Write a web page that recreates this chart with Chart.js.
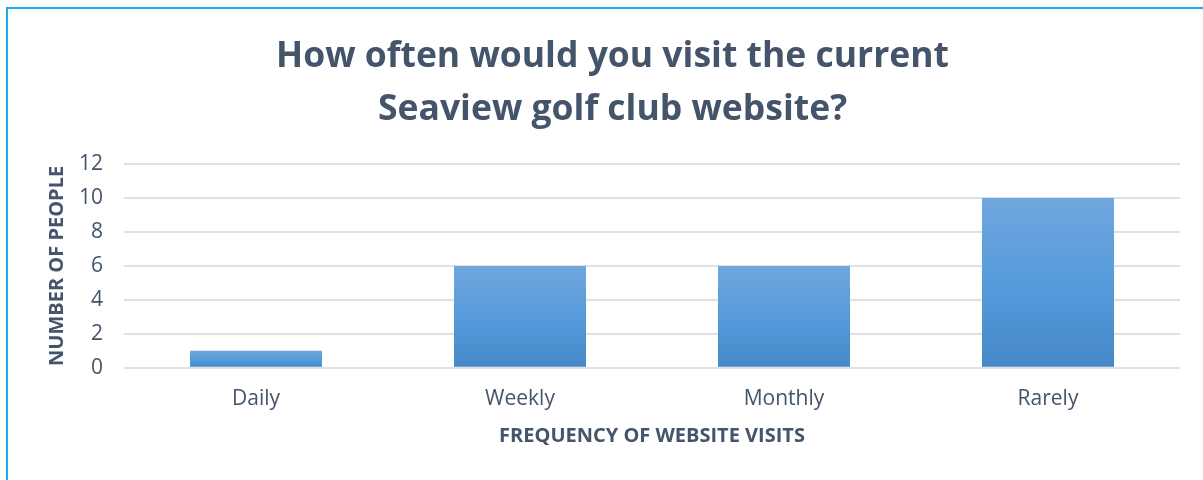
<!DOCTYPE html>
<html>
<head>
<meta charset="utf-8">
<script src="https://cdn.jsdelivr.net/npm/chart.js@4"></script>
<style>
  html, body { margin: 0; padding: 0; background: #fff; overflow: hidden; }
  #wrap { position: relative; width: 1203px; height: 480px; }
  #frame { position: absolute; left: 6px; top: 7px; width: 1400px; height: 700px;
           border-left: 2px solid #14aee9; border-top: 2px solid #14aee9; pointer-events: none; }
</style>
</head>
<body>
<div id="wrap">
  <canvas id="visitChart" width="1203" height="480"></canvas>
  <div id="frame"></div>
</div>
<script>
const categories = ["Daily", "Weekly", "Monthly", "Rarely"];
const people = [1, 6, 6, 10];
const yTicks = [0, 2, 4, 6, 8, 10, 12];

const textColor = "#44546a";
const ctx = document.getElementById("visitChart").getContext("2d");

// per-bar vertical gradient, lighter at the top
function barGradient(c) {
    const chart = c.chart;
    const y = chart.scales.y;
    if (!y || c.raw == null) return "#5b9bd5";
    const top = y.getPixelForValue(c.raw);
    const base = y.getPixelForValue(0);
    if (!isFinite(top) || !isFinite(base) || top === base) return "#5b9bd5";
    const g = chart.ctx.createLinearGradient(0, top, 0, base);
    g.addColorStop(0, "#71a6dd");
    g.addColorStop(0.5, "#569bdb");
    g.addColorStop(1, "#4488c8");
    return g;
}

new Chart(ctx, {
    type: "bar",
    data: {
        labels: categories,
        datasets: [{
            label: "Number of people",
            data: people,
            backgroundColor: barGradient,
            borderWidth: 0,
            categoryPercentage: 0.5,
            barPercentage: 1.0
        }]
    },
    options: {
        responsive: false,
        animation: false,
        layout: { padding: { left: 45, right: 23, top: 30, bottom: 32 } },
        plugins: {
            legend: { display: false },
            tooltip: { enabled: false },
            title: {
                display: true,
                text: ["How often would you visit the current", "Seaview golf club website?"],
                color: textColor,
                font: { family: "Open Sans", size: 35.5, weight: "bold", lineHeight: 1.5 },
                padding: { top: 0, bottom: 27.5 }
            }
        },
        scales: {
            x: {
                grid: { display: false, drawTicks: false },
                border: { display: false },
                ticks: { color: textColor, font: { family: "Open Sans", size: 21 }, padding: 19, maxRotation: 0 },
                title: {
                    display: true,
                    text: "FREQUENCY OF WEBSITE VISITS",
                    color: textColor,
                    font: { family: "Open Sans", size: 20, weight: "bold" },
                    // tick padding is counted twice in the axis size, so take it back here
                    padding: { top: -7, bottom: 0 }
                }
            },
            y: {
                min: 0,
                max: 12,
                afterBuildTicks: axis => { axis.ticks = yTicks.map(v => ({ value: v })); },
                grid: { color: "#dde1e6", lineWidth: 2, drawTicks: false },
                border: { display: false },
                ticks: { color: textColor, font: { family: "Open Sans", size: 21 }, padding: 21 },
                title: {
                    display: true,
                    text: "NUMBER OF PEOPLE",
                    color: textColor,
                    font: { family: "Open Sans", size: 20, weight: "bold" },
                    padding: { top: 0, bottom: -11 }
                }
            }
        }
    }
});
</script>
</body>
</html>
